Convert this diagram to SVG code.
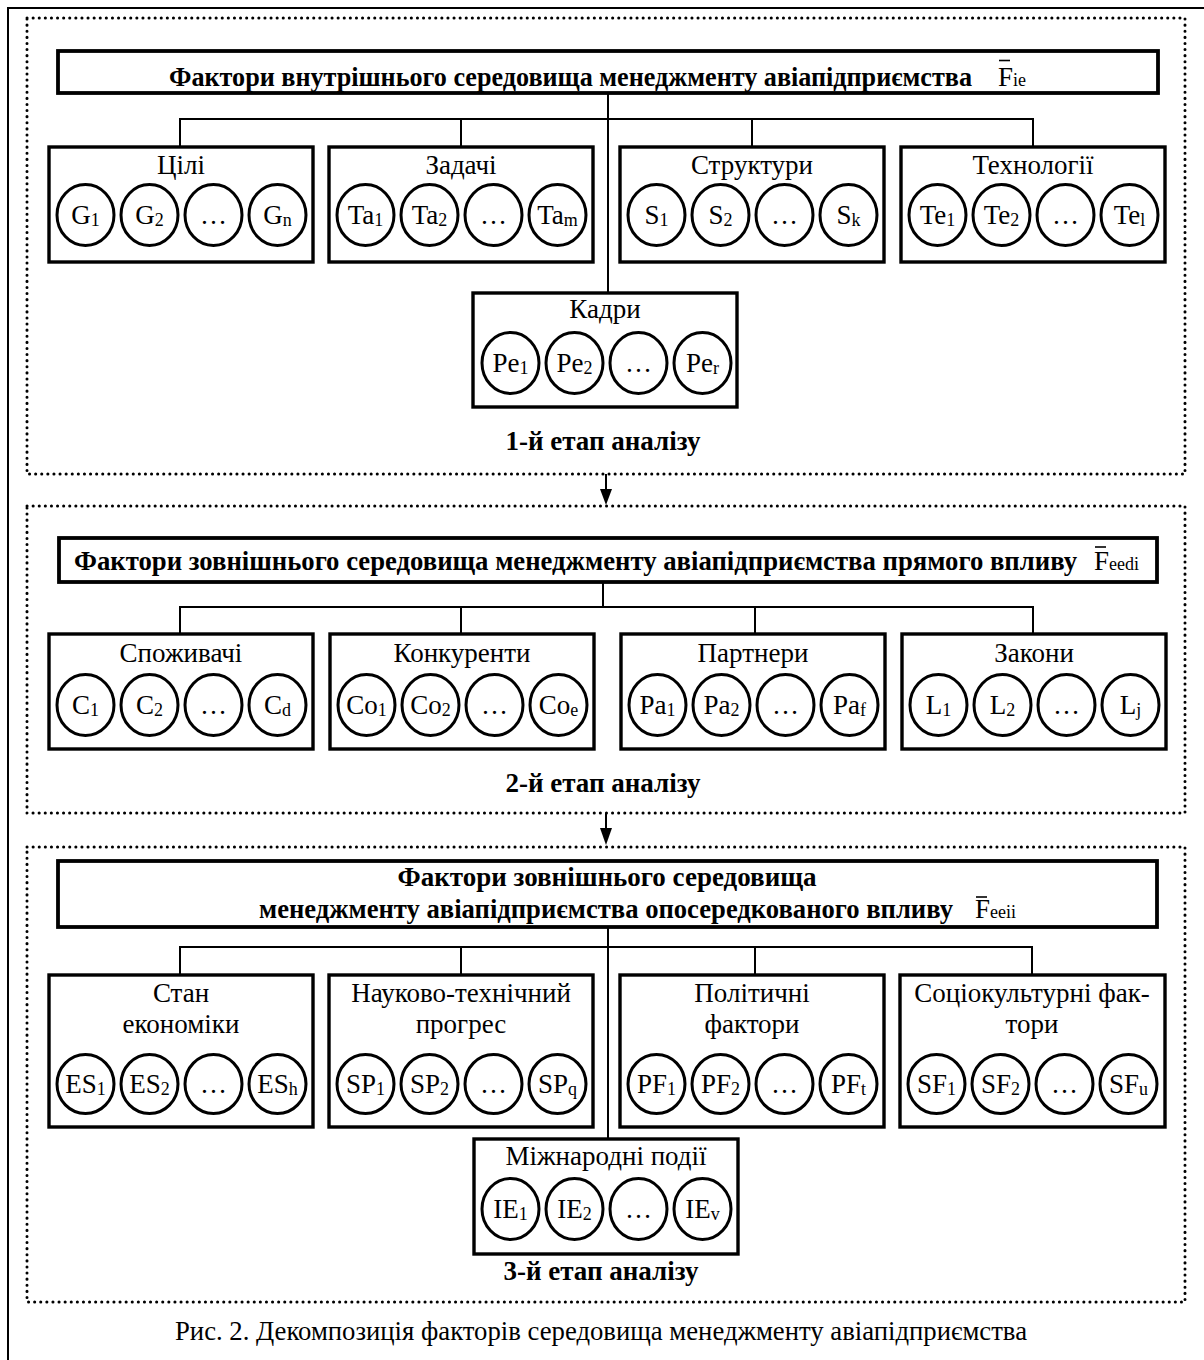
<svg xmlns="http://www.w3.org/2000/svg" width="1204" height="1360" viewBox="0 0 1204 1360">
<defs>
<style>
text{font-family:"Liberation Serif","Times New Roman",serif;fill:#000}
.tb{font-size:27px;font-weight:bold}
.tr{font-size:27px}
.lb{font-size:27px;text-anchor:middle}
.cl{font-size:27px;text-anchor:middle}
.sub{font-size:18px}
.fs{font-size:18px}
.st{font-size:27px;font-weight:bold;text-anchor:middle}
.cap{font-size:27px}
.frame{fill:none;stroke:#000;stroke-width:2}
.dot{fill:none;stroke:#000;stroke-width:3;stroke-dasharray:0.1 6;stroke-linecap:round}
.title{fill:#fff;stroke:#000;stroke-width:3.8}
.box{fill:#fff;stroke:#000;stroke-width:3.4}
.c{fill:#fff;stroke:#000;stroke-width:3}
.ln{fill:none;stroke:#000;stroke-width:2}
.bar{stroke:#000;stroke-width:1.6}
</style>
</defs>

<rect class="frame" x="8" y="8" width="1220" height="1380"/>

<g id="stage1-frame"><rect class="dot" x="27" y="18" width="1158" height="456"/></g>
<g id="stage2-frame"><rect class="dot" x="27" y="506" width="1158" height="307"/></g>
<g id="stage3-frame"><rect class="dot" x="27" y="847" width="1158" height="455"/></g>

<g id="connectors">
<path class="ln" d="M608,93 V293 M180,147 V119 H1033 V147 M461,119 V147 M752,119 V147"/>
<path class="ln" d="M603,582 V607 M180,634 V607 H1033 V634 M461,607 V634 M755,607 V634"/>
<path class="ln" d="M608,927 V1139 M180,975 V947 H1032 V975 M461,947 V975 M755,947 V975"/>
<line class="ln" x1="606" y1="474" x2="606" y2="490"/>
<path d="M600,489 L612,489 L606,505 Z" fill="#000"/>
<line class="ln" x1="606" y1="813" x2="606" y2="829"/>
<path d="M600,828 L612,828 L606,845 Z" fill="#000"/>
</g>

<!-- Stage 1 -->
<g id="title1">
<rect class="title" x="58" y="51" width="1100" height="42"/>
<text class="tb" x="169" y="86" textLength="803" lengthAdjust="spacingAndGlyphs">Фактори внутрішнього середовища менеджменту авіапідприємства</text>
<text class="tr" x="998" y="86">F<tspan class="fs">ie</tspan></text>
<line class="bar" x1="999" y1="60.5" x2="1010" y2="60.5"/>
</g>

<g id="goals">
<rect class="box" x="49" y="147" width="264" height="115"/>
<text class="lb" x="181" y="174">Цілі</text>
<ellipse class="c" cx="85.5" cy="215" rx="28.5" ry="30.5"/>
<ellipse class="c" cx="149.5" cy="215" rx="28.5" ry="30.5"/>
<ellipse class="c" cx="213.5" cy="215" rx="28.5" ry="30.5"/>
<ellipse class="c" cx="277.5" cy="215" rx="28.5" ry="30.5"/>
<text class="cl" x="85.5" y="224">G<tspan class="sub" dy="2">1</tspan></text>
<text class="cl" x="149.5" y="224">G<tspan class="sub" dy="2">2</tspan></text>
<text class="cl" x="213.5" y="224">…</text>
<text class="cl" x="277.5" y="224">G<tspan class="sub" dy="2">n</tspan></text>
</g>

<g id="tasks">
<rect class="box" x="329" y="147" width="264" height="115"/>
<text class="lb" x="461" y="174">Задачі</text>
<ellipse class="c" cx="365.5" cy="215" rx="28.5" ry="30.5"/>
<ellipse class="c" cx="429.5" cy="215" rx="28.5" ry="30.5"/>
<ellipse class="c" cx="493.5" cy="215" rx="28.5" ry="30.5"/>
<ellipse class="c" cx="557.5" cy="215" rx="28.5" ry="30.5"/>
<text class="cl" x="365.5" y="224">Ta<tspan class="sub" dy="2">1</tspan></text>
<text class="cl" x="429.5" y="224">Ta<tspan class="sub" dy="2">2</tspan></text>
<text class="cl" x="493.5" y="224">…</text>
<text class="cl" x="557.5" y="224">Ta<tspan class="sub" dy="2">m</tspan></text>
</g>

<g id="structures">
<rect class="box" x="620" y="147" width="264" height="115"/>
<text class="lb" x="752" y="174">Структури</text>
<ellipse class="c" cx="656.5" cy="215" rx="28.5" ry="30.5"/>
<ellipse class="c" cx="720.5" cy="215" rx="28.5" ry="30.5"/>
<ellipse class="c" cx="784.5" cy="215" rx="28.5" ry="30.5"/>
<ellipse class="c" cx="848.5" cy="215" rx="28.5" ry="30.5"/>
<text class="cl" x="656.5" y="224">S<tspan class="sub" dy="2">1</tspan></text>
<text class="cl" x="720.5" y="224">S<tspan class="sub" dy="2">2</tspan></text>
<text class="cl" x="784.5" y="224">…</text>
<text class="cl" x="848.5" y="224">S<tspan class="sub" dy="2">k</tspan></text>
</g>

<g id="technologies">
<rect class="box" x="901" y="147" width="264" height="115"/>
<text class="lb" x="1033" y="174">Технології</text>
<ellipse class="c" cx="937.5" cy="215" rx="28.5" ry="30.5"/>
<ellipse class="c" cx="1001.5" cy="215" rx="28.5" ry="30.5"/>
<ellipse class="c" cx="1065.5" cy="215" rx="28.5" ry="30.5"/>
<ellipse class="c" cx="1129.5" cy="215" rx="28.5" ry="30.5"/>
<text class="cl" x="937.5" y="224">Te<tspan class="sub" dy="2">1</tspan></text>
<text class="cl" x="1001.5" y="224">Te<tspan class="sub" dy="2">2</tspan></text>
<text class="cl" x="1065.5" y="224">…</text>
<text class="cl" x="1129.5" y="224">Te<tspan class="sub" dy="2">l</tspan></text>
</g>

<g id="personnel">
<rect class="box" x="473" y="293" width="264" height="114"/>
<text class="lb" x="605" y="318">Кадри</text>
<ellipse class="c" cx="510.5" cy="363" rx="28.5" ry="30.5"/>
<ellipse class="c" cx="574.5" cy="363" rx="28.5" ry="30.5"/>
<ellipse class="c" cx="638.5" cy="363" rx="28.5" ry="30.5"/>
<ellipse class="c" cx="702.5" cy="363" rx="28.5" ry="30.5"/>
<text class="cl" x="510.5" y="372">Pe<tspan class="sub" dy="2">1</tspan></text>
<text class="cl" x="574.5" y="372">Pe<tspan class="sub" dy="2">2</tspan></text>
<text class="cl" x="638.5" y="372">…</text>
<text class="cl" x="702.5" y="372">Pe<tspan class="sub" dy="2">r</tspan></text>
</g>

<text class="st" x="603" y="450">1-й етап аналізу</text>

<!-- Stage 2 -->
<g id="title2">
<rect class="title" x="59" y="538" width="1098" height="44"/>
<text class="tb" x="74" y="570" textLength="1003" lengthAdjust="spacingAndGlyphs">Фактори зовнішнього середовища менеджменту авіапідприємства прямого впливу</text>
<text class="tr" x="1094" y="570">F<tspan class="fs">eedi</tspan></text>
<line class="bar" x1="1095" y1="547" x2="1106" y2="547"/>
</g>

<g id="consumers">
<rect class="box" x="49" y="634" width="264" height="115"/>
<text class="lb" x="181" y="662">Споживачі</text>
<ellipse class="c" cx="85.5" cy="705" rx="28.5" ry="30.5"/>
<ellipse class="c" cx="149.5" cy="705" rx="28.5" ry="30.5"/>
<ellipse class="c" cx="213.5" cy="705" rx="28.5" ry="30.5"/>
<ellipse class="c" cx="277.5" cy="705" rx="28.5" ry="30.5"/>
<text class="cl" x="85.5" y="714">C<tspan class="sub" dy="2">1</tspan></text>
<text class="cl" x="149.5" y="714">C<tspan class="sub" dy="2">2</tspan></text>
<text class="cl" x="213.5" y="714">…</text>
<text class="cl" x="277.5" y="714">C<tspan class="sub" dy="2">d</tspan></text>
</g>

<g id="competitors">
<rect class="box" x="330" y="634" width="264" height="115"/>
<text class="lb" x="462" y="662">Конкуренти</text>
<ellipse class="c" cx="366.5" cy="705" rx="28.5" ry="30.5"/>
<ellipse class="c" cx="430.5" cy="705" rx="28.5" ry="30.5"/>
<ellipse class="c" cx="494.5" cy="705" rx="28.5" ry="30.5"/>
<ellipse class="c" cx="558.5" cy="705" rx="28.5" ry="30.5"/>
<text class="cl" x="366.5" y="714">Co<tspan class="sub" dy="2">1</tspan></text>
<text class="cl" x="430.5" y="714">Co<tspan class="sub" dy="2">2</tspan></text>
<text class="cl" x="494.5" y="714">…</text>
<text class="cl" x="558.5" y="714">Co<tspan class="sub" dy="2">e</tspan></text>
</g>

<g id="partners">
<rect class="box" x="621" y="634" width="264" height="115"/>
<text class="lb" x="753" y="662">Партнери</text>
<ellipse class="c" cx="657.5" cy="705" rx="28.5" ry="30.5"/>
<ellipse class="c" cx="721.5" cy="705" rx="28.5" ry="30.5"/>
<ellipse class="c" cx="785.5" cy="705" rx="28.5" ry="30.5"/>
<ellipse class="c" cx="849.5" cy="705" rx="28.5" ry="30.5"/>
<text class="cl" x="657.5" y="714">Pa<tspan class="sub" dy="2">1</tspan></text>
<text class="cl" x="721.5" y="714">Pa<tspan class="sub" dy="2">2</tspan></text>
<text class="cl" x="785.5" y="714">…</text>
<text class="cl" x="849.5" y="714">Pa<tspan class="sub" dy="2">f</tspan></text>
</g>

<g id="laws">
<rect class="box" x="902" y="634" width="264" height="115"/>
<text class="lb" x="1034" y="662">Закони</text>
<ellipse class="c" cx="938.5" cy="705" rx="28.5" ry="30.5"/>
<ellipse class="c" cx="1002.5" cy="705" rx="28.5" ry="30.5"/>
<ellipse class="c" cx="1066.5" cy="705" rx="28.5" ry="30.5"/>
<ellipse class="c" cx="1130.5" cy="705" rx="28.5" ry="30.5"/>
<text class="cl" x="938.5" y="714">L<tspan class="sub" dy="2">1</tspan></text>
<text class="cl" x="1002.5" y="714">L<tspan class="sub" dy="2">2</tspan></text>
<text class="cl" x="1066.5" y="714">…</text>
<text class="cl" x="1130.5" y="714">L<tspan class="sub" dy="2">j</tspan></text>
</g>

<text class="st" x="603" y="792">2-й етап аналізу</text>

<!-- Stage 3 -->
<g id="title3">
<rect class="title" x="58" y="861" width="1099" height="66"/>
<text class="st" x="607" y="886">Фактори зовнішнього середовища</text>
<text class="tb" x="259" y="918" textLength="694" lengthAdjust="spacingAndGlyphs">менеджменту авіапідприємства опосередкованого впливу</text>
<text class="tr" x="975" y="918">F<tspan class="fs">eeii</tspan></text>
<line class="bar" x1="976" y1="897" x2="987" y2="897"/>
</g>

<g id="economy">
<rect class="box" x="49" y="975" width="264" height="152"/>
<text class="lb" x="181" y="1002">Стан</text>
<text class="lb" x="181" y="1033">економіки</text>
<ellipse class="c" cx="85.5" cy="1084" rx="28.5" ry="29.5"/>
<ellipse class="c" cx="149.5" cy="1084" rx="28.5" ry="29.5"/>
<ellipse class="c" cx="213.5" cy="1084" rx="28.5" ry="29.5"/>
<ellipse class="c" cx="277.5" cy="1084" rx="28.5" ry="29.5"/>
<text class="cl" x="85.5" y="1093">ES<tspan class="sub" dy="2">1</tspan></text>
<text class="cl" x="149.5" y="1093">ES<tspan class="sub" dy="2">2</tspan></text>
<text class="cl" x="213.5" y="1093">…</text>
<text class="cl" x="277.5" y="1093">ES<tspan class="sub" dy="2">h</tspan></text>
</g>

<g id="scitech">
<rect class="box" x="329" y="975" width="264" height="152"/>
<text class="lb" x="461" y="1002">Науково-технічний</text>
<text class="lb" x="461" y="1033">прогрес</text>
<ellipse class="c" cx="365.5" cy="1084" rx="28.5" ry="29.5"/>
<ellipse class="c" cx="429.5" cy="1084" rx="28.5" ry="29.5"/>
<ellipse class="c" cx="493.5" cy="1084" rx="28.5" ry="29.5"/>
<ellipse class="c" cx="557.5" cy="1084" rx="28.5" ry="29.5"/>
<text class="cl" x="365.5" y="1093">SP<tspan class="sub" dy="2">1</tspan></text>
<text class="cl" x="429.5" y="1093">SP<tspan class="sub" dy="2">2</tspan></text>
<text class="cl" x="493.5" y="1093">…</text>
<text class="cl" x="557.5" y="1093">SP<tspan class="sub" dy="2">q</tspan></text>
</g>

<g id="political">
<rect class="box" x="620" y="975" width="264" height="152"/>
<text class="lb" x="752" y="1002">Політичні</text>
<text class="lb" x="752" y="1033">фактори</text>
<ellipse class="c" cx="656.5" cy="1084" rx="28.5" ry="29.5"/>
<ellipse class="c" cx="720.5" cy="1084" rx="28.5" ry="29.5"/>
<ellipse class="c" cx="784.5" cy="1084" rx="28.5" ry="29.5"/>
<ellipse class="c" cx="848.5" cy="1084" rx="28.5" ry="29.5"/>
<text class="cl" x="656.5" y="1093">PF<tspan class="sub" dy="2">1</tspan></text>
<text class="cl" x="720.5" y="1093">PF<tspan class="sub" dy="2">2</tspan></text>
<text class="cl" x="784.5" y="1093">…</text>
<text class="cl" x="848.5" y="1093">PF<tspan class="sub" dy="2">t</tspan></text>
</g>

<g id="sociocultural">
<rect class="box" x="900" y="975" width="265" height="152"/>
<text class="lb" x="1032" y="1002">Соціокультурні фак-</text>
<text class="lb" x="1032" y="1033">тори</text>
<ellipse class="c" cx="936.5" cy="1084" rx="28.5" ry="29.5"/>
<ellipse class="c" cx="1000.5" cy="1084" rx="28.5" ry="29.5"/>
<ellipse class="c" cx="1064.5" cy="1084" rx="28.5" ry="29.5"/>
<ellipse class="c" cx="1128.5" cy="1084" rx="28.5" ry="29.5"/>
<text class="cl" x="936.5" y="1093">SF<tspan class="sub" dy="2">1</tspan></text>
<text class="cl" x="1000.5" y="1093">SF<tspan class="sub" dy="2">2</tspan></text>
<text class="cl" x="1064.5" y="1093">…</text>
<text class="cl" x="1128.5" y="1093">SF<tspan class="sub" dy="2">u</tspan></text>
</g>

<g id="international">
<rect class="box" x="474" y="1139" width="264" height="115"/>
<text class="lb" x="606" y="1165">Міжнародні події</text>
<ellipse class="c" cx="510.5" cy="1209" rx="28.5" ry="30.5"/>
<ellipse class="c" cx="574.5" cy="1209" rx="28.5" ry="30.5"/>
<ellipse class="c" cx="638.5" cy="1209" rx="28.5" ry="30.5"/>
<ellipse class="c" cx="702.5" cy="1209" rx="28.5" ry="30.5"/>
<text class="cl" x="510.5" y="1218">IE<tspan class="sub" dy="2">1</tspan></text>
<text class="cl" x="574.5" y="1218">IE<tspan class="sub" dy="2">2</tspan></text>
<text class="cl" x="638.5" y="1218">…</text>
<text class="cl" x="702.5" y="1218">IE<tspan class="sub" dy="2">v</tspan></text>
</g>

<text class="st" x="601" y="1280">3-й етап аналізу</text>

<text class="cap" x="175" y="1340" textLength="852" lengthAdjust="spacingAndGlyphs">Рис. 2. Декомпозиція факторів середовища менеджменту авіапідприємства</text>
</svg>
